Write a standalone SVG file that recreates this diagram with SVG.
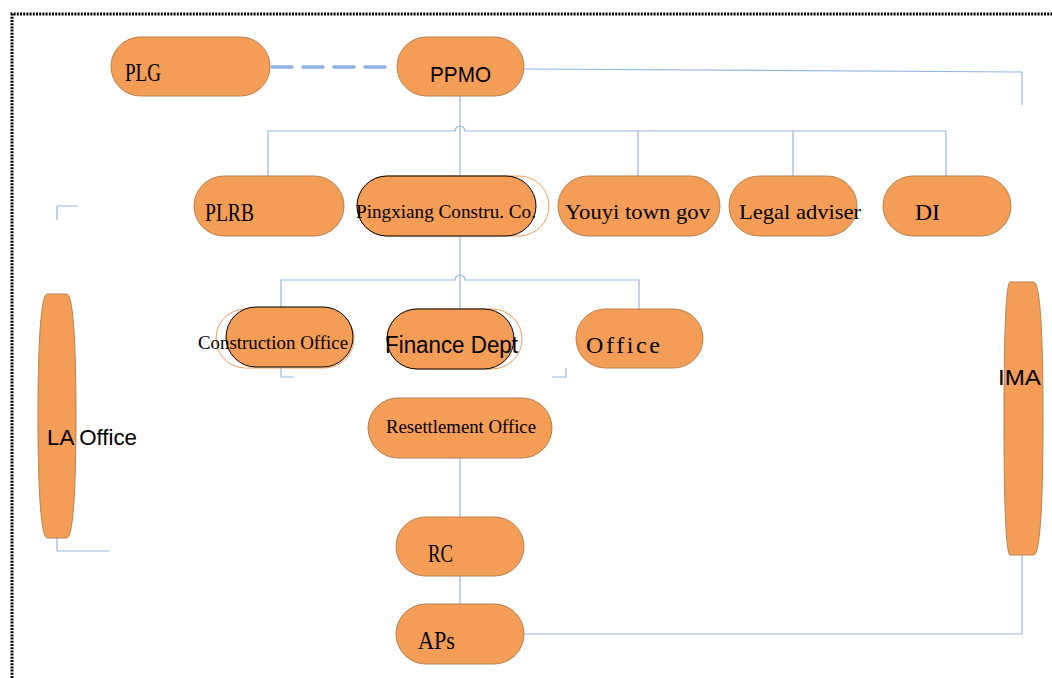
<svg xmlns="http://www.w3.org/2000/svg" width="1052" height="678" viewBox="0 0 1052 678">
<style>
.n{fill:#f49d56;stroke:#b8804e;stroke-width:1}
.nb{fill:#f49d56;stroke:#000;stroke-width:1}
.ol{fill:none;stroke:#f49d56;stroke-width:1}
.c{fill:none;stroke:#95b7e6;stroke-width:1.2}
.d{fill:none;stroke:#8db3e2;stroke-width:3.5;stroke-dasharray:20 11;stroke-linecap:round}
.s{font-family:"Liberation Serif",serif;fill:#000}
.a{font-family:"Liberation Sans",Arial,sans-serif;fill:#000}
</style>
<rect width="1052" height="678" fill="#fff"/>
<path d="M12,678 V14 H1052" fill="none" stroke="#000" stroke-width="3" stroke-dasharray="2 1.2"/>
<g id="connectors">
<path class="d" d="M272,67 H395"/>
<path class="c" d="M524,69 L1022,72 V105"/>
<path class="c" d="M460,96 V176"/>
<path class="c" d="M268,176 V131 H455 A5,5 0 0 1 465,131 H946 V176"/>
<path class="c" d="M638,131 V176 M793,131 V176"/>
<path class="c" d="M460,236 V309"/>
<path class="c" d="M281,307 V280 H455 A5,5 0 0 1 465,280 H639 V309"/>
<path class="c" d="M281,367 V377 H294 M552,377 H566 V368"/>
<path class="c" d="M78,206 H57 V220 M57,537 V551 H110"/>
<path class="c" d="M460,458 V517 M460,576 V604"/>
<path class="c" d="M524,634 H1022 V555"/>
</g>
<g id="PLG"><rect class="n" x="111" y="37" width="159" height="59" rx="29.5"/><text class="s" x="125" y="81" font-size="26" textLength="36" lengthAdjust="spacingAndGlyphs">PLG</text></g>
<g id="PPMO"><rect class="n" x="397" y="37" width="127" height="59" rx="29.5"/><text class="a" x="430" y="82" font-size="22" textLength="61" lengthAdjust="spacingAndGlyphs">PPMO</text></g>
<g id="PLRB"><rect class="n" x="194" y="176" width="150" height="60" rx="30"/><text class="s" x="205" y="221" font-size="26" textLength="49" lengthAdjust="spacingAndGlyphs">PLRB</text></g>
<g id="Pingxiang"><rect class="ol" x="357" y="176" width="192" height="60" rx="30"/><rect class="nb" x="357" y="176" width="179" height="60" rx="30"/><text class="s" x="356" y="218" font-size="19" textLength="180" lengthAdjust="spacingAndGlyphs">Pingxiang Constru. Co.</text></g>
<g id="Youyi"><rect class="n" x="558" y="176" width="162" height="60" rx="30"/><text class="s" x="565" y="219" font-size="22" textLength="145" lengthAdjust="spacingAndGlyphs">Youyi town gov</text></g>
<g id="Legal"><rect class="n" x="729" y="176" width="128" height="60" rx="30"/><text class="s" x="739" y="219" font-size="22" textLength="122" lengthAdjust="spacingAndGlyphs">Legal adviser</text></g>
<g id="DI"><rect class="n" x="883" y="176" width="128" height="60" rx="30"/><text class="s" x="915" y="220" font-size="24" textLength="25" lengthAdjust="spacingAndGlyphs">DI</text></g>
<g id="ConstructionOffice"><rect class="ol" x="216" y="309" width="138" height="59" rx="29.5"/><rect class="nb" x="226" y="307" width="127" height="60" rx="30"/><text class="s" x="198" y="349" font-size="18" textLength="150" lengthAdjust="spacingAndGlyphs">Construction Office</text></g>
<g id="Finance"><rect class="ol" x="387" y="309" width="135" height="60" rx="30"/><rect class="nb" x="387" y="309" width="127" height="60" rx="30"/><text class="a" x="385" y="353" font-size="23" textLength="133" lengthAdjust="spacingAndGlyphs">Finance Dept</text></g>
<g id="Office"><rect class="n" x="576" y="309" width="127" height="59" rx="29.5"/><text class="s" x="586" y="353" font-size="24" textLength="74" lengthAdjust="spacing">Office</text></g>
<g id="LAOffice"><path class="n" d="M47,294 H67 C73,296 76,340 76,416 C76,492 73,536 67,538 H47 C41,536 38,492 38,416 C38,340 41,296 47,294 Z"/><text class="a" x="47" y="445" font-size="22" textLength="90" lengthAdjust="spacingAndGlyphs">LA Office</text></g>
<g id="IMA"><path class="n" d="M1010,282 H1034 C1040,284 1043,330 1043,418 C1043,506 1040,553 1034,555 H1010 C1006,553 1004,506 1004,418 C1004,330 1006,284 1010,282 Z"/><text class="a" x="998" y="385" font-size="22" textLength="43" lengthAdjust="spacingAndGlyphs">IMA</text></g>
<g id="Resettlement"><rect class="n" x="368" y="398" width="184" height="60" rx="30"/><text class="s" x="386" y="433" font-size="18" textLength="150" lengthAdjust="spacingAndGlyphs">Resettlement Office</text></g>
<g id="RC"><rect class="n" x="396" y="517" width="128" height="59" rx="29.5"/><text class="s" x="428" y="562" font-size="26" textLength="25" lengthAdjust="spacingAndGlyphs">RC</text></g>
<g id="APs"><rect class="n" x="396" y="604" width="128" height="60" rx="30"/><text class="s" x="418" y="649" font-size="25" textLength="37" lengthAdjust="spacingAndGlyphs">APs</text></g>
</svg>
